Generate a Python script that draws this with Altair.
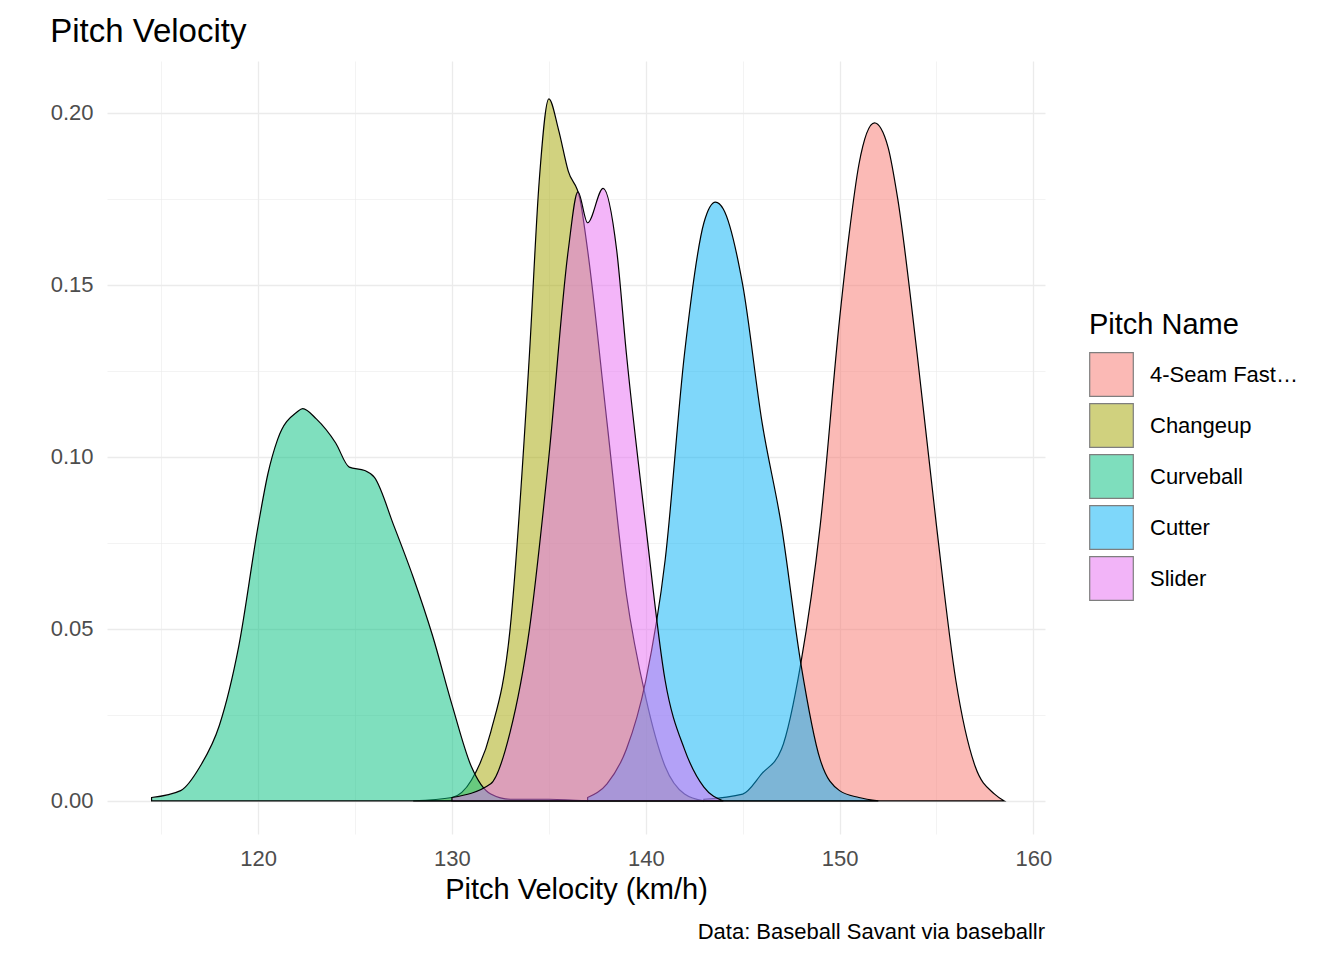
import pandas as pd
import altair as alt

pitches = ["4-Seam Fastball", "Changeup", "Curveball", "Cutter", "Slider"]
colors = ["#F8766D", "#A3A500", "#00BF7D", "#00B0F6", "#E76BF3"]

fastball_x = [143, 145, 146, 147, 148, 149, 150, 150.5, 151, 151.8, 152.5, 153, 154, 155, 156, 157, 158, 158.5]
fastball_y = [0.0005, 0.002, 0.008, 0.015, 0.04, 0.08, 0.14, 0.165, 0.185, 0.197, 0.19, 0.175, 0.13, 0.08, 0.035, 0.01, 0.002, 0.0]

changeup_x = [128, 130, 131, 132, 133, 134, 134.5, 135, 135.5, 136, 136.6, 137, 138, 139, 140, 141, 142, 143]
changeup_y = [0.0, 0.001, 0.006, 0.02, 0.05, 0.13, 0.18, 0.204, 0.195, 0.183, 0.175, 0.16, 0.11, 0.06, 0.03, 0.01, 0.002, 0.0]

curve_x = [114.5, 116, 117, 118, 119, 120, 120.5, 121, 122, 122.3, 123, 124, 124.7, 125.5, 126, 127, 128, 129, 130, 131, 132, 133, 135, 137]
curve_y = [0.001, 0.003, 0.01, 0.022, 0.045, 0.08, 0.095, 0.105, 0.113, 0.114, 0.111, 0.104, 0.097, 0.096, 0.094, 0.08, 0.065, 0.048, 0.028, 0.01, 0.002, 0.0005, 0.0005, 0.0]

cutter_x = [137, 138, 139, 140, 141, 142, 143, 143.6, 144, 145, 146, 147, 148, 149, 150, 151, 152]
cutter_y = [0.001, 0.005, 0.015, 0.035, 0.07, 0.13, 0.168, 0.174, 0.172, 0.15, 0.11, 0.08, 0.04, 0.012, 0.003, 0.001, 0.0]

slider_x = [130, 132, 133, 134, 135, 136, 136.5, 137, 137.8, 138.5, 139, 140, 141, 142, 143, 144]
slider_y = [0.001, 0.005, 0.02, 0.05, 0.1, 0.16, 0.177, 0.168, 0.178, 0.16, 0.13, 0.08, 0.035, 0.015, 0.004, 0.0]

series = [(fastball_x, fastball_y), (changeup_x, changeup_y), (curve_x, curve_y),
          (cutter_x, cutter_y), (slider_x, slider_y)]
rows = []
for name, (xs, ys) in zip(pitches, series):
    for x, y in zip(xs, ys):
        rows.append({"pitch": name, "velo": x, "dens": y})
df = pd.DataFrame(rows)

x_vals = list(range(115, 161, 5))
y_vals = [i * 0.025 for i in range(9)]

areas = alt.Chart(df).mark_area(
    fillOpacity=0.5, stroke="black", strokeWidth=1.2, strokeOpacity=1, interpolate="monotone"
).encode(
    x=alt.X("velo:Q", title="Pitch Velocity (km/h)",
            scale=alt.Scale(domain=[112.2, 160.6], nice=False, zero=False),
            axis=alt.Axis(values=x_vals,
                          labelExpr="datum.value % 10 == 0 ? datum.label : ''",
                          gridWidth={"expr": "datum.value % 10 == 0 ? 1.3 : 0.6"},
                          labelPadding=14, titlePadding=6)),
    y=alt.Y("dens:Q", title=None, stack=None,
            scale=alt.Scale(domain=[-0.0096, 0.215], nice=False, zero=False),
            axis=alt.Axis(values=y_vals, format=".2f",
                          labelExpr="round(datum.value * 1000) % 50 == 0 ? datum.label : ''",
                          gridWidth={"expr": "round(datum.value * 1000) % 50 == 0 ? 1.3 : 0.6"},
                          labelPadding=14)),
    fill=alt.Fill("pitch:N", title="Pitch Name",
                  scale=alt.Scale(domain=pitches, range=colors),
                  legend=alt.Legend(orient="none", legendX=982, legendY=250,
                                    symbolType="square", symbolSize=1900,
                                    symbolStrokeColor="black", symbolStrokeWidth=1.2,
                                    symbolOpacity=0.5, labelFontSize=22,
                                    titleFontSize=29, titleFontWeight="normal",
                                    titlePadding=12, rowPadding=2, labelOffset=16,
                                    titleColor="black", labelColor="black")),
    order=alt.Order("pitch:N"),
)

caption = alt.Chart(pd.DataFrame({"t": ["Data: Baseball Savant via baseballr"]})).mark_text(
    align="right", baseline="middle", fontSize=22, color="black"
).encode(x=alt.value(938), y=alt.value(871), text="t:N")

chart = (areas + caption).properties(
    width=938, height=773,
    title=alt.TitleParams("Pitch Velocity", anchor="start", fontSize=33,
                          fontWeight="normal", color="black", offset=12),
    padding={"left": 42, "top": 8, "right": 8, "bottom": 60},
).configure(font="Liberation Sans").configure_view(stroke=None).configure_axis(
    domain=False, ticks=False, gridColor="#EBEBEB", labelFontSize=22,
    labelColor="#4D4D4D", titleFontSize=29, titleFontWeight="normal",
    titleColor="black"
)

chart.save("out.html", embed_options={"renderer": "svg", "actions": False})
